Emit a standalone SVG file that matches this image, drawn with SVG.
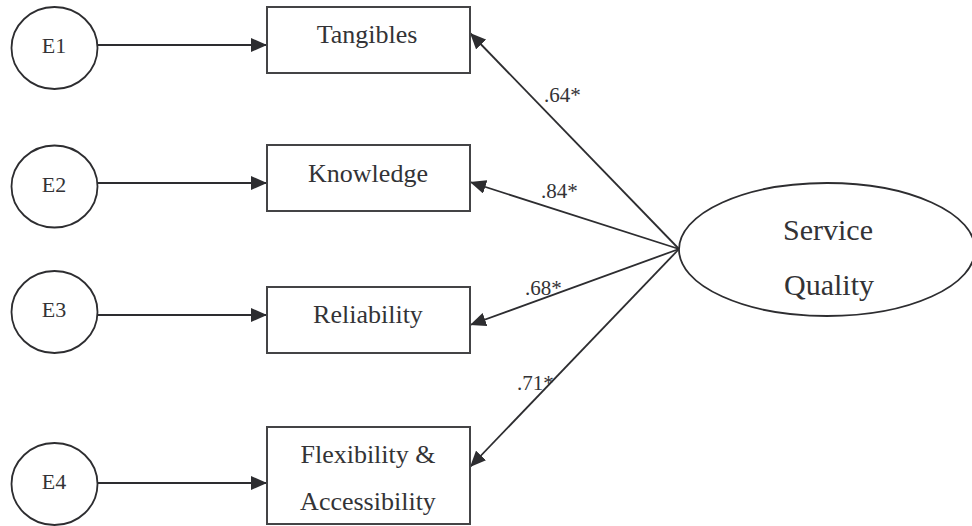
<svg xmlns="http://www.w3.org/2000/svg" width="972" height="526" viewBox="0 0 972 526">
  <defs>
    <marker id="arrow" viewBox="0 0 16 14" refX="16" refY="7" markerWidth="16" markerHeight="14" markerUnits="userSpaceOnUse" orient="auto">
      <path d="M0,0 L16,7 L0,14 z" fill="#2d2d30"/>
    </marker>
    <style>
      .err { fill: #ffffff; stroke: #2d2d30; stroke-width: 1.8; }
      .box { fill: #ffffff; stroke: #444446; stroke-width: 2; }
      .latent { fill: #ffffff; stroke: #2d2d30; stroke-width: 1.8; }
      .edge { fill: none; stroke: #2d2d30; stroke-width: 1.8; marker-end: url(#arrow); }
      text { font-family: "Liberation Serif", "DejaVu Serif", serif; fill: #333336; text-anchor: middle; }
      .errlabel { font-size: 22px; }
      .boxlabel { font-size: 26px; }
      .latlabel { font-size: 30px; }
      .coef { font-size: 21px; text-anchor: start; }
    </style>
  </defs>

  <rect width="972" height="526" fill="#ffffff"/>

  <!-- connectors -->
  <g id="connectors">
    <line class="edge" x1="98" y1="45" x2="267" y2="45"/>
    <line class="edge" x1="98" y1="183" x2="267" y2="183"/>
    <line class="edge" x1="98" y1="315" x2="267" y2="315"/>
    <line class="edge" x1="98" y1="483" x2="267" y2="483"/>

    <line class="edge" x1="679" y1="249" x2="470" y2="33"/>
    <line class="edge" x1="679" y1="249" x2="470" y2="182"/>
    <line class="edge" x1="679" y1="249" x2="470" y2="325"/>
    <line class="edge" x1="679" y1="249" x2="470" y2="467"/>

    <text class="coef" x="544" y="102">.64*</text>
    <text class="coef" x="541" y="198">.84*</text>
    <text class="coef" x="525" y="295">.68*</text>
    <text class="coef" x="517" y="390">.71*</text>
  </g>

  <!-- error terms -->
  <g id="e1">
    <ellipse class="err" cx="54.5" cy="48" rx="43" ry="41"/>
    <text class="errlabel" x="54" y="53">E1</text>
  </g>
  <g id="e2">
    <ellipse class="err" cx="54.5" cy="186.5" rx="43" ry="41"/>
    <text class="errlabel" x="54" y="191.5">E2</text>
  </g>
  <g id="e3">
    <ellipse class="err" cx="54.5" cy="312" rx="43" ry="41"/>
    <text class="errlabel" x="54" y="317">E3</text>
  </g>
  <g id="e4">
    <ellipse class="err" cx="54.5" cy="484" rx="43" ry="41"/>
    <text class="errlabel" x="54" y="489">E4</text>
  </g>

  <!-- observed indicators -->
  <g id="tangibles">
    <rect class="box" x="267" y="7" width="203" height="66"/>
    <text class="boxlabel" x="367" y="43">Tangibles</text>
  </g>
  <g id="knowledge">
    <rect class="box" x="267" y="145" width="203" height="66"/>
    <text class="boxlabel" x="368" y="182">Knowledge</text>
  </g>
  <g id="reliability">
    <rect class="box" x="267" y="287" width="203" height="66"/>
    <text class="boxlabel" x="368" y="323">Reliability</text>
  </g>
  <g id="flexibility">
    <rect class="box" x="267" y="427" width="203" height="97"/>
    <text class="boxlabel" x="368" y="463">Flexibility &amp;</text>
    <text class="boxlabel" x="368" y="510">Accessibility</text>
  </g>

  <!-- latent construct -->
  <g id="service-quality">
    <ellipse class="latent" cx="827" cy="249.5" rx="148" ry="66.5"/>
    <text class="latlabel" x="828" y="240">Service</text>
    <text class="latlabel" x="829" y="295">Quality</text>
  </g>
</svg>
